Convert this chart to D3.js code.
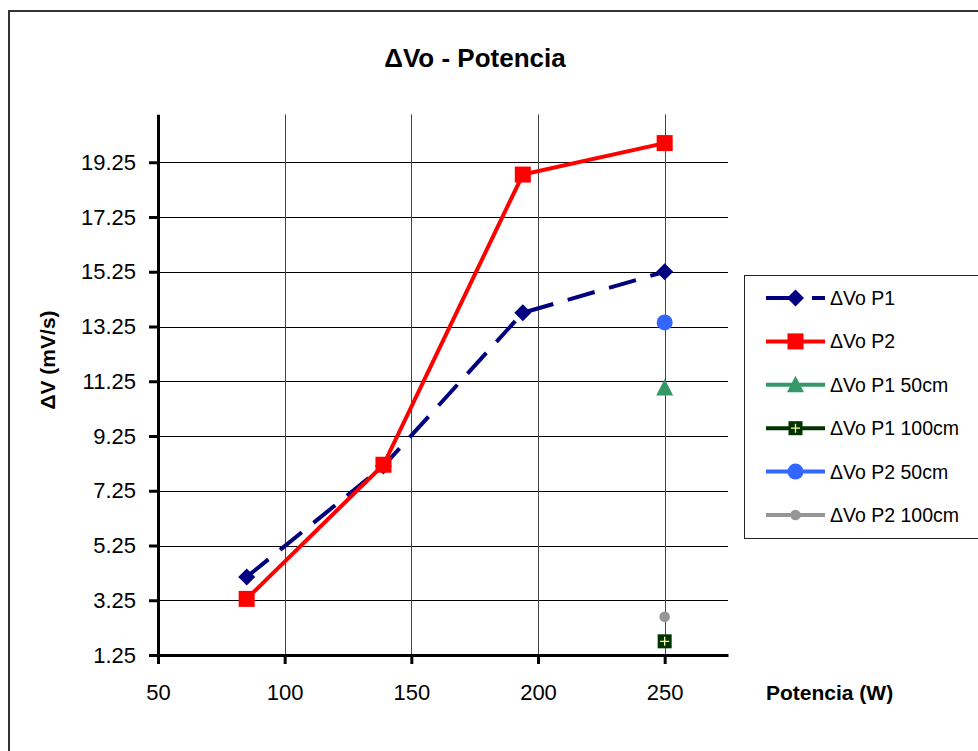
<!DOCTYPE html>
<html>
<head>
<meta charset="utf-8">
<script src="https://cdn.jsdelivr.net/npm/d3@7/dist/d3.min.js"></script>
<style>
  html, body { margin: 0; padding: 0; background: #fff; }
  svg { display: block; font-family: "Liberation Sans", Arial, sans-serif; }
</style>
</head>
<body>
<svg id="chart" width="978" height="751"></svg>
<script>
// Power (W) on the x axis, voltage-rate change on the y axis
const potencia = [85, 139, 194, 250];
const dvP1 = [4.1, 8.15, 13.75, 15.25];
const dvP2 = [3.3, 8.2, 18.8, 19.95];
const potenciaSingle = [250];
const dvP1_50 = [11.0];
const dvP1_100 = [1.75];
const dvP2_50 = [13.4];
const dvP2_100 = [2.65];

const xTicks = [50, 100, 150, 200, 250];
const yTicks = [1.25, 3.25, 5.25, 7.25, 9.25, 11.25, 13.25, 15.25, 17.25, 19.25];
const xDomain = [50, 275];
const yDomain = [1.25, 21];

const titleText = "\u0394Vo - Potencia";
const xLabel = "Potencia (W)";
const yLabel = "\u0394V (mV/s)";

const series = [
  { name: "\u0394Vo P1",       xs: potencia,       ys: dvP1,     color: "#000080", marker: "diamond", dashed: true,  line: true },
  { name: "\u0394Vo P2",       xs: potencia,       ys: dvP2,     color: "#FF0000", marker: "square",  dashed: false, line: true },
  { name: "\u0394Vo P1 50cm",  xs: potenciaSingle, ys: dvP1_50,  color: "#339966", marker: "triangle" },
  { name: "\u0394Vo P1 100cm", xs: potenciaSingle, ys: dvP1_100, color: "#003300", marker: "plusSquare" },
  { name: "\u0394Vo P2 50cm",  xs: potenciaSingle, ys: dvP2_50,  color: "#3366FF", marker: "circle" },
  { name: "\u0394Vo P2 100cm", xs: potenciaSingle, ys: dvP2_100, color: "#969696", marker: "smallCircle" }
];

const svg = d3.select("#chart");

// outer chart border (runs off the right and bottom edges)
svg.append("rect")
  .attr("x", 9).attr("y", 11).attr("width", 1100).attr("height", 900)
  .attr("fill", "none").attr("stroke", "#333").attr("stroke-width", 2);

const x = d3.scaleLinear().domain(xDomain).range([158, 728]);
const y = d3.scaleLinear().domain(yDomain).range([655, 655 - 19.75 * 27.375]);

// gridlines
svg.append("g").selectAll("line").data(yTicks.slice(1)).join("line")
  .attr("x1", x(xDomain[0])).attr("x2", x(xDomain[1]))
  .attr("y1", d => Math.round(y(d)) + 0.5).attr("y2", d => Math.round(y(d)) + 0.5)
  .attr("stroke", "#000").attr("stroke-width", 1);
svg.append("g").selectAll("line").data(xTicks.slice(1)).join("line")
  .attr("y1", y(yDomain[0])).attr("y2", y(yDomain[1]))
  .attr("x1", d => Math.round(x(d)) + 0.5).attr("x2", d => Math.round(x(d)) + 0.5)
  .attr("stroke", "#444").attr("stroke-width", 1);

// axes
const yAxis = svg.append("g").attr("transform", `translate(${x(xDomain[0])},0)`)
  .call(d3.axisLeft(y).tickValues(yTicks).tickFormat(d3.format(".2f")).tickSizeInner(9).tickSizeOuter(0).tickPadding(13));
const xAxis = svg.append("g").attr("transform", `translate(0,${y(yDomain[0])})`)
  .call(d3.axisBottom(x).tickValues(xTicks).tickFormat(d3.format("d")).tickSizeInner(9).tickSizeOuter(0).tickPadding(20));
[yAxis, xAxis].forEach(a => {
  a.select(".domain").attr("stroke", "#000").attr("stroke-width", 3);
  a.selectAll(".tick line").attr("stroke", "#000").attr("stroke-width", 3);
  a.selectAll(".tick text").attr("fill", "#000")
    .style("font-family", "'Liberation Sans', Arial, sans-serif").style("font-size", "22px");
});

// markers
function drawMarker(g, type, color, cx, cy) {
  if (type === "diamond") {
    g.append("path").attr("d", `M${cx},${cy - 8.5}L${cx + 8.5},${cy}L${cx},${cy + 8.5}L${cx - 8.5},${cy}Z`).attr("fill", color);
  } else if (type === "square") {
    g.append("rect").attr("x", cx - 8).attr("y", cy - 8).attr("width", 16).attr("height", 16).attr("fill", color);
  } else if (type === "triangle") {
    g.append("path").attr("d", `M${cx},${cy - 9}L${cx + 8.5},${cy + 7.5}L${cx - 8.5},${cy + 7.5}Z`).attr("fill", color);
  } else if (type === "plusSquare") {
    g.append("rect").attr("x", cx - 7).attr("y", cy - 7).attr("width", 14).attr("height", 14).attr("fill", color);
    g.append("path").attr("d", `M${cx - 4.5},${cy}H${cx + 4.5}M${cx},${cy - 4.5}V${cy + 4.5}`)
      .attr("stroke", "#FFFF99").attr("stroke-width", 1.3);
  } else if (type === "circle") {
    g.append("circle").attr("cx", cx).attr("cy", cy).attr("r", 8).attr("fill", color);
  } else if (type === "smallCircle") {
    g.append("circle").attr("cx", cx).attr("cy", cy).attr("r", 5.3).attr("fill", color);
  }
}

const line = d3.line().x(d => x(d[0])).y(d => y(d[1]));
const plot = svg.append("g");
series.forEach(s => {
  const pts = s.xs.map((v, i) => [v, s.ys[i]]);
  if (s.line && pts.length > 1) {
    plot.append("path").datum(pts).attr("d", line)
      .attr("fill", "none").attr("stroke", s.color).attr("stroke-width", 4)
      .attr("stroke-dasharray", s.dashed ? "28,15" : null);
  }
});
series.forEach(s => {
  const g = plot.append("g");
  s.xs.forEach((v, i) => drawMarker(g, s.marker, s.color, x(v), y(s.ys[i])));
});

// title and axis titles
svg.append("text").attr("x", 475).attr("y", 67).attr("text-anchor", "middle")
  .style("font-size", "26px").style("font-weight", "bold").text(titleText);
svg.append("text").attr("x", 766).attr("y", 700)
  .style("font-size", "21px").style("font-weight", "bold").text(xLabel);
svg.append("text").attr("transform", "translate(55,360) rotate(-90)").attr("text-anchor", "middle")
  .style("font-size", "21px").style("font-weight", "bold").text(yLabel);

// legend
const legend = svg.append("g");
legend.append("rect").attr("x", 744.5).attr("y", 275.5).attr("width", 240).attr("height", 263)
  .attr("fill", "#fff").attr("stroke", "#222").attr("stroke-width", 1);
series.forEach((s, i) => {
  const cy = 298 + i * 43.4;
  const g = legend.append("g");
  g.append("line").attr("x1", 766).attr("x2", 825).attr("y1", cy).attr("y2", cy)
    .attr("stroke", s.color).attr("stroke-width", 4)
    .attr("stroke-dasharray", s.dashed ? "29,17" : null);
  drawMarker(g, s.marker, s.color, 795.5, cy);
  g.append("text").attr("x", 830).attr("y", cy + 7).style("font-size", "19.5px").text(s.name);
});
</script>
</body>
</html>
